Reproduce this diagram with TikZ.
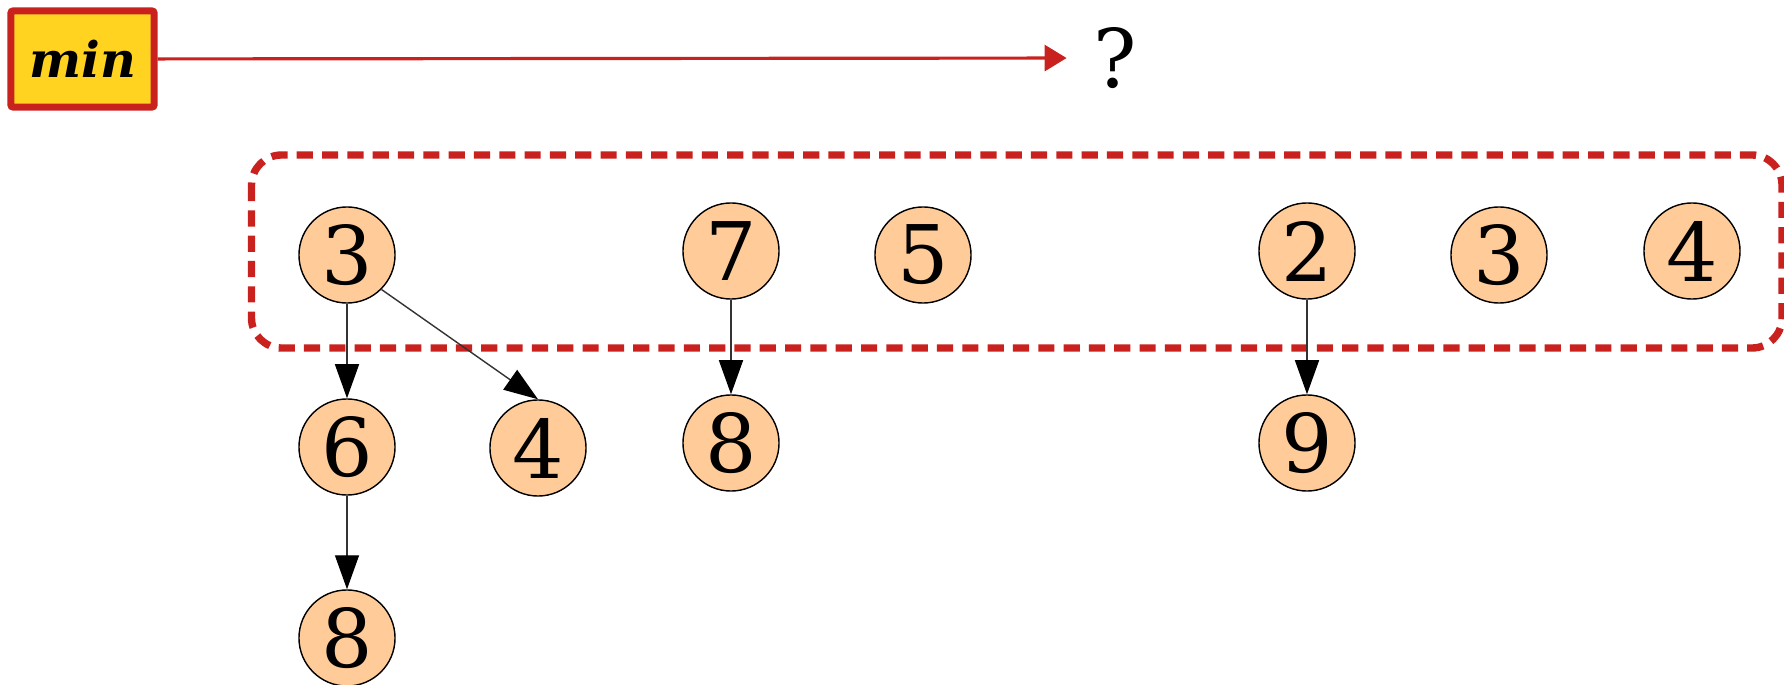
\documentclass[tikz,border=0pt]{standalone}
\usepackage{fontspec}
\setmainfont{DejaVu Serif}
\usepackage{tikz}
\usetikzlibrary{arrows.meta, positioning}

\definecolor{peach}{RGB}{255,204,153}
\definecolor{rootred}{RGB}{201,33,30}
\definecolor{minyellow}{RGB}{255,211,32}

\begin{document}
\begin{tikzpicture}[
                    x=0.01cm, y=-0.01cm,
                    key/.style={draw, circle, fill=peach, line width=0.4pt, minimum size=0.96cm, inner sep=0pt, font=\fontsize{23}{27}\selectfont},
                    edge/.style={black!80, line width=0.4pt, -{Triangle[length=0.34cm, width=0.24cm, color=black]}},
                    minbox/.style={draw=rootred, line width=2pt, fill=minyellow, rounded corners=0.6pt, minimum width=1.43cm, minimum height=0.96cm, inner sep=0pt, font=\fontsize{14}{17}\selectfont\bfseries\itshape},
                    minptr/.style={rootred, line width=0.9pt, shorten >=0.26cm, -{Triangle[length=0.22cm, width=0.26cm]}},
                    rootlist/.style={draw=rootred, line width=2.1pt, dash pattern=on 4.6pt off 2.6pt, rounded corners=0.3cm}
                ]
                \useasboundingbox (0,0) rectangle (1784,685);

                % root list
                \draw[rootlist] (251.5,155) rectangle (1782,348);
                \foreach \x/\y/\k/\i in {347/255/3/1, 731/251/7/2, 923/255/5/3, 1307/251/2/4, 1499/255/3/5, 1692/251/4/6}{
                        \node[key] (r\i) at (\x,\y) {\k};
                    }

                % children
                \node[key] (c1) at (347,447) {6};
                \node[key] (c2) at (538,448) {4};
                \node[key] (c3) at (731,443) {8};
                \node[key] (c4) at (1307,443) {9};
                \node[key] (c5) at (347,638) {8};

                \draw[edge] (r1) -- (c1);
                \draw[edge] (r1.south east) -- (c2.north);
                \draw[edge] (r2) -- (c3);
                \draw[edge] (r4) -- (c4);
                \draw[edge] (c1) -- (c5);

                % min pointer
                \node[minbox] (min) at (82.5,59) {min};
                \node[font=\fontsize{23}{27}\selectfont, inner sep=0pt] (q) at (1115,58) {?};
                \draw[minptr] (min) -- (q);
            \end{tikzpicture}
\end{document}
